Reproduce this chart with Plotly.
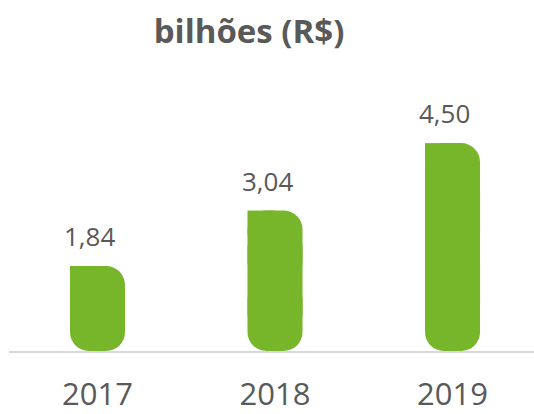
import plotly.graph_objects as go

years = ["2017", "2018", "2019"]
values = [1.84, 3.04, 4.50]
labels = ["1,84", "3,04", "4,50"]

GREEN = "#77B52B"
GRAY = "#595959"
BAR_W = 0.31
RADIUS = 19  # px
PX_PER_UNIT = 46.2
r_data = RADIUS / PX_PER_UNIT * 1.3

xs = list(range(len(years)))
half = [v / 2 for v in values]
quarter = [v / 4 for v in values]

fig = go.Figure()
# upper half: rounded top corners
fig.add_trace(go.Bar(x=xs, y=half, base=half, width=BAR_W,
                     marker=dict(color=GREEN, cornerradius=RADIUS, line=dict(width=0)),
                     hoverinfo="skip"))
# lower half: rounded bottom corners (bar drawn downward)
fig.add_trace(go.Bar(x=xs, y=[-h for h in half], base=half, width=BAR_W,
                     marker=dict(color=GREEN, cornerradius=RADIUS, line=dict(width=0)),
                     hoverinfo="skip"))
# middle filler (square)
fig.add_trace(go.Bar(x=xs, y=half, base=quarter, width=BAR_W,
                     marker=dict(color=GREEN, line=dict(width=0)),
                     hoverinfo="skip"))
# square top-left corner
fig.add_trace(go.Bar(x=xs, y=[r_data] * len(values), base=[v - r_data for v in values],
                     width=BAR_W / 2, offset=-BAR_W / 2,
                     marker=dict(color=GREEN, line=dict(width=0)),
                     hoverinfo="skip"))

for x, v, t in zip(xs, values, labels):
    fig.add_annotation(x=x, y=v, text=t, showarrow=False, xshift=-8, yshift=30,
                       yanchor="middle", font=dict(family="Open Sans", size=26, color=GRAY))

fig.update_layout(
    width=534, height=414,
    barmode="overlay",
    showlegend=False,
    plot_bgcolor="white", paper_bgcolor="white",
    margin=dict(l=9, r=0, t=60, b=63, autoexpand=False),
    title=dict(text="<b>bilhões (R$)</b>", x=249 / 534, xanchor="center",
               y=1 - 31 / 414, yanchor="middle",
               font=dict(family="Open Sans", size=33, color=GRAY)),
    xaxis=dict(tickmode="array", tickvals=xs, ticktext=years,
               range=[-0.4986, 2.459], showgrid=False, zeroline=False,
               showline=True, linecolor="#D9D9D9", linewidth=2,
               ticks="outside", ticklen=15, tickcolor="rgba(0,0,0,0)",
               automargin=False,
               tickfont=dict(family="Open Sans", size=31, color=GRAY)),
    yaxis=dict(range=[0, 291 / PX_PER_UNIT], visible=False, showgrid=False,
               zeroline=False, automargin=False),
)

fig.write_html("out.html",
               config={"displayModeBar": False, "staticPlot": True},
               post_script="document.body.style.margin='0';document.body.style.overflow='hidden';")
